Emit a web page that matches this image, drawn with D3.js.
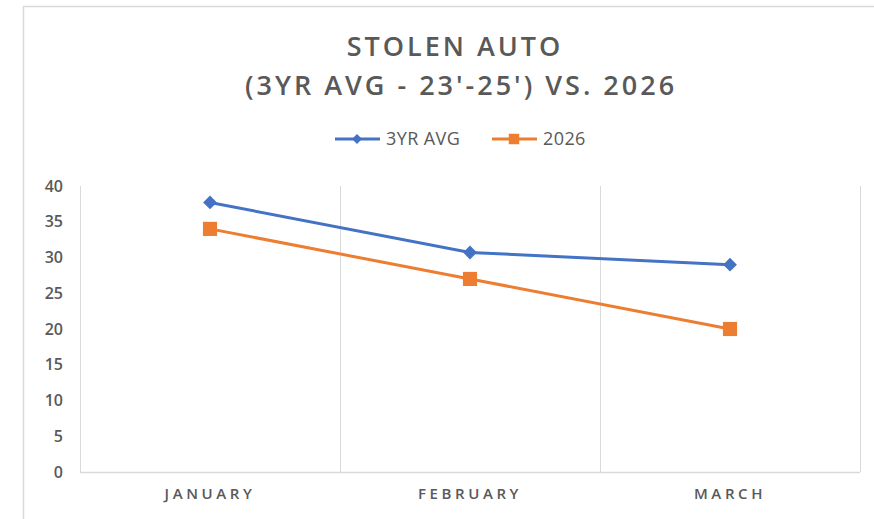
<!DOCTYPE html>
<html>
<head>
<meta charset="utf-8">
<script src="https://cdn.jsdelivr.net/npm/d3@7"></script>
<style>
  body { margin: 0; background: #fff; }
  text { font-family: "Open Sans", "Noto Sans", sans-serif; fill: #595959; }
</style>
</head>
<body>
<svg id="chart" width="874" height="519"></svg>
<script>
// data
const months = ["JANUARY", "FEBRUARY", "MARCH"];
const avg3yr = [37.7, 30.7, 29];
const y2026 = [34, 27, 20];
const yTicks = [0, 5, 10, 15, 20, 25, 30, 35, 40];

const seriesNames = ["3YR AVG", "2026"];
const seriesColors = ["#4472C4", "#ED7D31"];

const width = 874, height = 519;
const margin = {top: 186, right: 14, bottom: 47, left: 80};

const svg = d3.select("#chart");

// outer frame of the chart
svg.append("path")
    .attr("d", `M23.5,${height} V6.5 H${width}`)
    .attr("fill", "none")
    .attr("stroke", "#d9d9d9")
    .attr("stroke-width", 1.5);

// title
const title = svg.append("text")
    .attr("text-anchor", "middle")
    .style("font-size", "27px")
    .style("font-weight", 600)
    .style("letter-spacing", "3px");
title.append("tspan").attr("x", 455).attr("y", 56).text("STOLEN  AUTO");
title.append("tspan").attr("x", 461).attr("y", 95).text("(3YR  AVG  -  23'-25')  VS.  2026");

const x = d3.scaleBand()
    .domain(months)
    .range([margin.left, width - margin.right]);

const y = d3.scaleLinear()
    .domain([0, 40])
    .range([height - margin.bottom, margin.top]);

// vertical separators between categories
const edges = months.map(m => x(m)).concat([x.range()[1]]);
svg.append("g")
    .selectAll("line")
    .data(edges)
    .enter()
    .append("line")
    .attr("x1", d => d + 0.5)
    .attr("x2", d => d + 0.5)
    .attr("y1", y(40))
    .attr("y2", y(0))
    .attr("stroke", "#d9d9d9")
    .attr("stroke-width", 1);

// baseline
svg.append("line")
    .attr("x1", x.range()[0])
    .attr("x2", x.range()[1])
    .attr("y1", y(0) + 0.5)
    .attr("y2", y(0) + 0.5)
    .attr("stroke", "#d9d9d9")
    .attr("stroke-width", 1.5);

// y axis labels
const yAxis = svg.append("g")
    .attr("transform", `translate(${margin.left}, 0)`)
    .call(d3.axisLeft(y).tickValues(yTicks).tickSize(0).tickPadding(17));
yAxis.select(".domain").remove();
yAxis.selectAll("text")
    .style("font-size", "16px")
    .style("font-weight", 600)
    .style("font-family", "'Open Sans', sans-serif")
    .attr("fill", "#595959");

// x axis labels
const xAxis = svg.append("g")
    .attr("transform", `translate(0, ${y(0)})`)
    .call(d3.axisBottom(x).tickSize(0).tickPadding(16));
xAxis.select(".domain").remove();
xAxis.selectAll("text")
    .style("font-size", "15px")
    .style("font-weight", 600)
    .style("letter-spacing", "3.6px")
    .style("font-family", "'Open Sans', sans-serif")
    .attr("fill", "#595959");

const cx = m => x(m) + x.bandwidth() / 2;
const line = d3.line()
    .x((d, i) => cx(months[i]))
    .y(d => y(d));

const square = d3.symbol().type(d3.symbolSquare);

[avg3yr, y2026].forEach((vals, s) => {
    svg.append("path")
        .datum(vals)
        .attr("fill", "none")
        .attr("stroke", seriesColors[s])
        .attr("stroke-width", 3)
        .attr("d", line);

    // diamonds are rotated squares, squares stay upright
    svg.append("g")
        .selectAll("path")
        .data(vals)
        .enter()
        .append("path")
        .attr("transform", (d, i) => `translate(${cx(months[i])}, ${y(d)}) rotate(${s === 0 ? 45 : 0})`)
        .attr("d", square.size(s === 0 ? 95 : 200))
        .attr("fill", seriesColors[s]);
});

// legend
const legendItems = [
    {x: 335, size: 50, rot: 45},
    {x: 492, size: 110, rot: 0}
];
legendItems.forEach((it, s) => {
    const g = svg.append("g").attr("transform", `translate(${it.x}, 139)`);
    g.append("line")
        .attr("x1", 0).attr("x2", 45)
        .attr("stroke", seriesColors[s])
        .attr("stroke-width", 3);
    g.append("path")
        .attr("transform", `translate(22,0) rotate(${it.rot})`)
        .attr("d", d3.symbol().type(d3.symbolSquare).size(it.size))
        .attr("fill", seriesColors[s]);
    g.append("text")
        .attr("x", 51)
        .attr("dy", "0.36em")
        .style("font-size", "18px")
        .style("letter-spacing", "0.4px")
        .text(seriesNames[s]);
});
</script>
</body>
</html>
